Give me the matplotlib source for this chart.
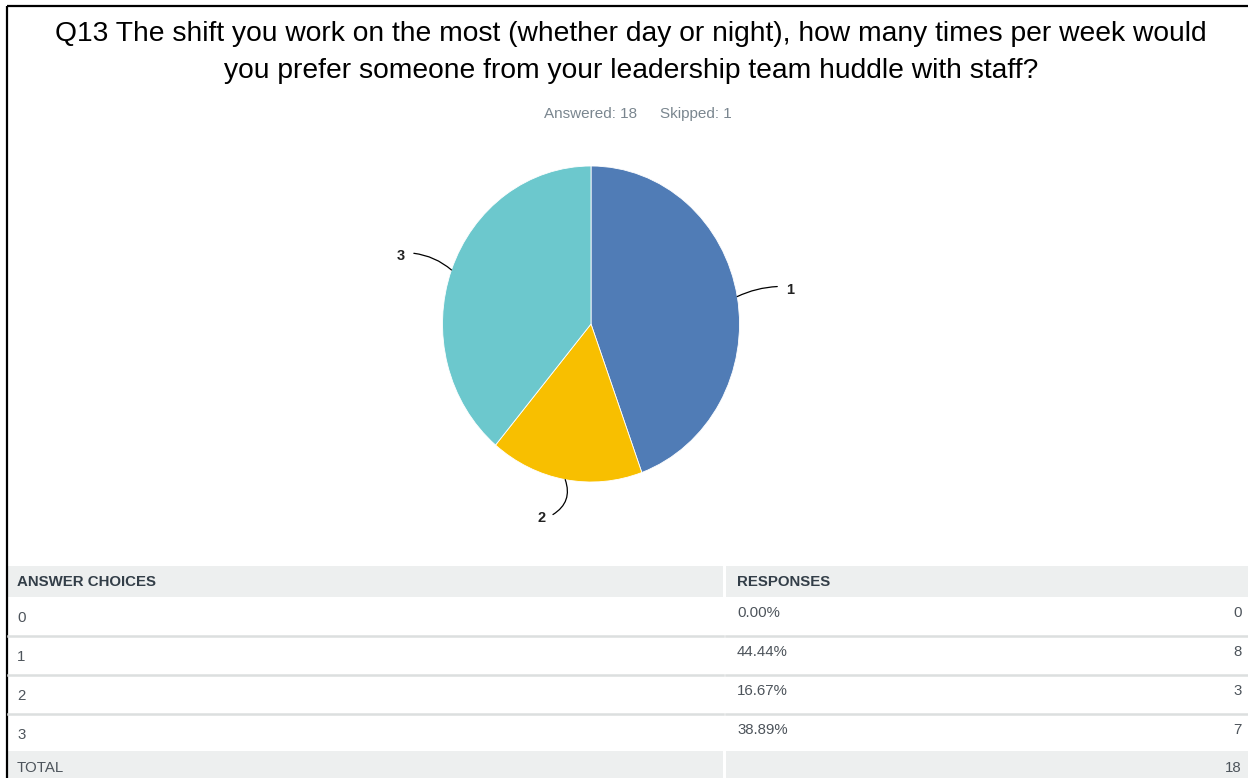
import numpy as np
import matplotlib.pyplot as plt
from matplotlib.patches import Rectangle

plt.rcParams['font.family'] = ['Liberation Sans', 'DejaVu Sans']

title_lines = ["Q13 The shift you work on the most (whether day or night), how many times per week would",
               "you prefer someone from your leadership team huddle with staff?"]
answered = 18
skipped = 1

choices = ['0', '1', '2', '3']
counts = [0, 8, 3, 7]
pcts = ['0.00%', '44.44%', '16.67%', '38.89%']
colors = ['#a0a0a0', '#507cb6', '#f8bf00', '#6cc8cd']

W, H = 1248, 778
fig = plt.figure(figsize=(W / 100, H / 100), dpi=100)

# full-figure axes in pixel units for text, frame and table
bg = fig.add_axes([0, 0, 1, 1])
bg.set_xlim(0, W)
bg.set_ylim(H, 0)
bg.axis('off')

# frame (top and left edge)
bg.plot([6.5, W], [5.5, 5.5], color='black', lw=1.6, solid_capstyle='butt')
bg.plot([6.5, 6.5], [5.5, H], color='black', lw=1.6, solid_capstyle='butt')

bg.text(631, 34, title_lines[0], ha='center', va='center', fontsize=20.3, color='black')
bg.text(631, 71, title_lines[1], ha='center', va='center', fontsize=20.3, color='black')
bg.text(637, 114, f"Answered: {answered}", ha='right', va='center',
        fontsize=11, color='#7a868f')
bg.text(660, 114, f"Skipped: {skipped}", ha='left', va='center',
        fontsize=11, color='#7a868f')

# pie (slightly taller than wide)
cx, cy, rx, ry = 591, 324, 148.5, 158
half = 230
pie_ax = fig.add_axes([(cx - half) / W, 1 - (cy + half) / H, 2 * half / W, 2 * half / H])
pie_ax.axis('off')

vals = [c for c in counts if c > 0]
labs = [ch for ch, c in zip(choices, counts) if c > 0]
cols = [col for col, c in zip(colors, counts) if c > 0]
wedges, _ = pie_ax.pie(vals, colors=cols, startangle=90, counterclock=False,
                       radius=1, wedgeprops=dict(linewidth=0.6, edgecolor='white'))
pie_ax.set_aspect('auto')
pie_ax.set_xlim(-half / rx, half / rx)
pie_ax.set_ylim(-half / ry, half / ry)

# leader lines and labels
rads = [0.1, 0.4, -0.15]
for w, lab, rad in zip(wedges, labs, rads):
    ang = np.deg2rad((w.theta1 + w.theta2) / 2)
    ca, sa = np.cos(ang), np.sin(ang)
    lx, ly = 1.36 * ca, 1.25 * sa
    if abs(sa) >= 0.9:
        # near-vertical: put label beside the end of the line
        lx -= 0.1
        ex, ey = lx + 0.08, ly + 0.025
    else:
        ex, ey = lx - np.sign(ca) * 0.085, ly + np.sign(sa) * 0.02
    pie_ax.annotate('', xy=(ca, sa), xytext=(ex, ey),
                    arrowprops=dict(arrowstyle='-', color='black', lw=0.9,
                                    connectionstyle=f'arc3,rad={rad}',
                                    shrinkA=0, shrinkB=0))
    pie_ax.text(lx, ly, lab, ha='center', va='center',
                fontsize=10.5, fontweight='bold', color='#222222')

# table
split = 724
head_top, head_bot = 566, 597
row_h = 39
grey = '#edefef'
txt = '#4d545b'
fs = 10.8
bg.add_patch(Rectangle((7.5, head_top), split - 7.5 - 1.5, head_bot - head_top, color=grey, lw=0))
bg.add_patch(Rectangle((split + 1.5, head_top), W - split, head_bot - head_top, color=grey, lw=0))
bg.text(17, 582, 'ANSWER CHOICES', fontsize=fs, fontweight='bold', color='#333e48', va='center')
bg.text(737, 582, 'RESPONSES', fontsize=fs, fontweight='bold', color='#333e48', va='center')

for i, (ch, pc, n) in enumerate(zip(choices, pcts, counts)):
    top = head_bot + i * row_h
    if i > 0:
        bg.plot([7.5, split - 1.5], [top, top], color='#dcdfdf', lw=1.8)
        bg.plot([split + 1.5, W], [top, top], color='#dcdfdf', lw=1.8)
    bg.text(17, top + 21, ch, fontsize=fs, color=txt, va='center')
    bg.text(737, top + 16, pc, fontsize=fs, color=txt, va='center')
    bg.text(1242, top + 16, str(n), fontsize=fs, color=txt, va='center', ha='right')

tot_top = head_bot + 4 * row_h - 2
bg.add_patch(Rectangle((7.5, tot_top), split - 7.5 - 1.5, H - tot_top, color=grey, lw=0))
bg.add_patch(Rectangle((split + 1.5, tot_top), W - split, H - tot_top, color=grey, lw=0))
bg.text(17, 768, 'TOTAL', fontsize=fs, color=txt, va='center')
bg.text(1242, 768, str(sum(counts)), fontsize=fs, color=txt, va='center', ha='right')

fig.savefig('out.png', dpi=100, facecolor='white')
